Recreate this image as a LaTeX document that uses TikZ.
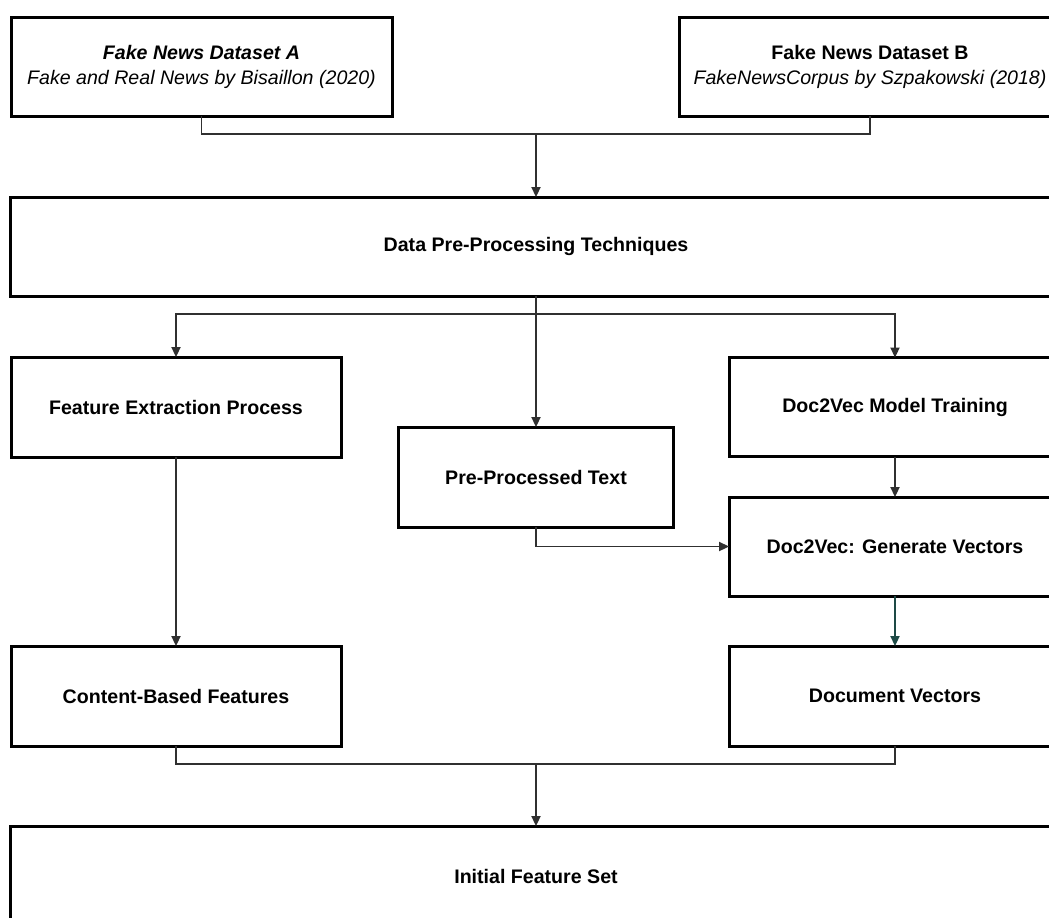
\documentclass[tikz,border=0pt]{standalone}
\usepackage{fontspec}
\setmainfont{Liberation Sans}
\usetikzlibrary{arrows.meta}

\definecolor{linegray}{HTML}{303030}
\definecolor{darkteal}{HTML}{1E4A46}

\tikzset{
  stagebox/.style={draw=black, line width=1.5pt, fill=white, inner sep=0pt,
    outer sep=0pt, align=center, font=\fontsize{9.8}{11.5}\selectfont\bfseries},
  conn/.style={draw=linegray, line width=0.7pt},
  arr/.style={conn, -{Triangle[length=5pt,width=4.6pt]}},
}

\begin{document}
\begin{tikzpicture}[x=0.5pt, y=-0.5pt]
  \useasboundingbox (0,0) rectangle (1049,917);
  \clip (0,0) rectangle (1049,917);
  \fill[white] (0,0) rectangle (1049,917);

  % data sources
  \node[stagebox, minimum width=190.5pt, minimum height=49.5pt] (dsA) at (201.5,66.5)
    {\textit{Fake News Dataset A}\\[1pt]{\mdseries\itshape Fake and Real News by Bisaillon (2020)}};
  \node[stagebox, minimum width=191pt, minimum height=49.5pt] (dsB) at (870,66.5)
    {Fake News Dataset B\\[1pt]{\mdseries\itshape FakeNewsCorpus by Szpakowski (2018)}};

  % pre-processing
  \node[stagebox, minimum width=526pt, minimum height=49.5pt] (prep) at (536,246.5)
    {Data Pre-Processing Techniques};

  % middle tier
  \node[stagebox, minimum width=165pt, minimum height=50pt] (fe) at (176,407)
    {Feature Extraction Process};
  \node[stagebox, minimum width=137.5pt, minimum height=50pt] (ppt) at (536,477)
    {Pre-Processed Text};
  \node[stagebox, minimum width=166pt, minimum height=49.5pt] (train) at (895,407)
    {Doc2Vec Model Training};
  \node[stagebox, minimum width=166pt, minimum height=49.5pt] (gen) at (895,546.5)
    {Doc2Vec: Generate Vectors};

  % feature outputs
  \node[stagebox, minimum width=165pt, minimum height=50pt] (cbf) at (176,696)
    {Content-Based Features};
  \node[stagebox, minimum width=166pt, minimum height=50pt] (dv) at (895,696)
    {Document Vectors};

  % final set
  \node[stagebox, minimum width=526pt, minimum height=50pt] (ifs) at (536,876)
    {Initial Feature Set};

  % junction points
  \coordinate (jtop) at (536,134);
  \coordinate (jmid) at (536,314);
  \coordinate (jbot) at (536,764);

  % connectors
  \draw[conn] (dsA.south) |- (jtop) -| (dsB.south);
  \draw[arr] (jtop) -- (prep.north);

  \draw[arr] (prep.south) -- (ppt.north);
  \draw[arr] (jmid) -| (fe.north);
  \draw[arr] (jmid) -| (train.north);

  \draw[arr] (train.south) -- (gen.north);
  \draw[arr] (ppt.south) |- (gen.west);
  \draw[arr] (fe.south) -- (cbf.north);
  \draw[arr, draw=darkteal] (gen.south) -- (dv.north);

  \draw[conn] (cbf.south) |- (jbot) -| (dv.south);
  \draw[arr] (jbot) -- (ifs.north);
\end{tikzpicture}
\end{document}
